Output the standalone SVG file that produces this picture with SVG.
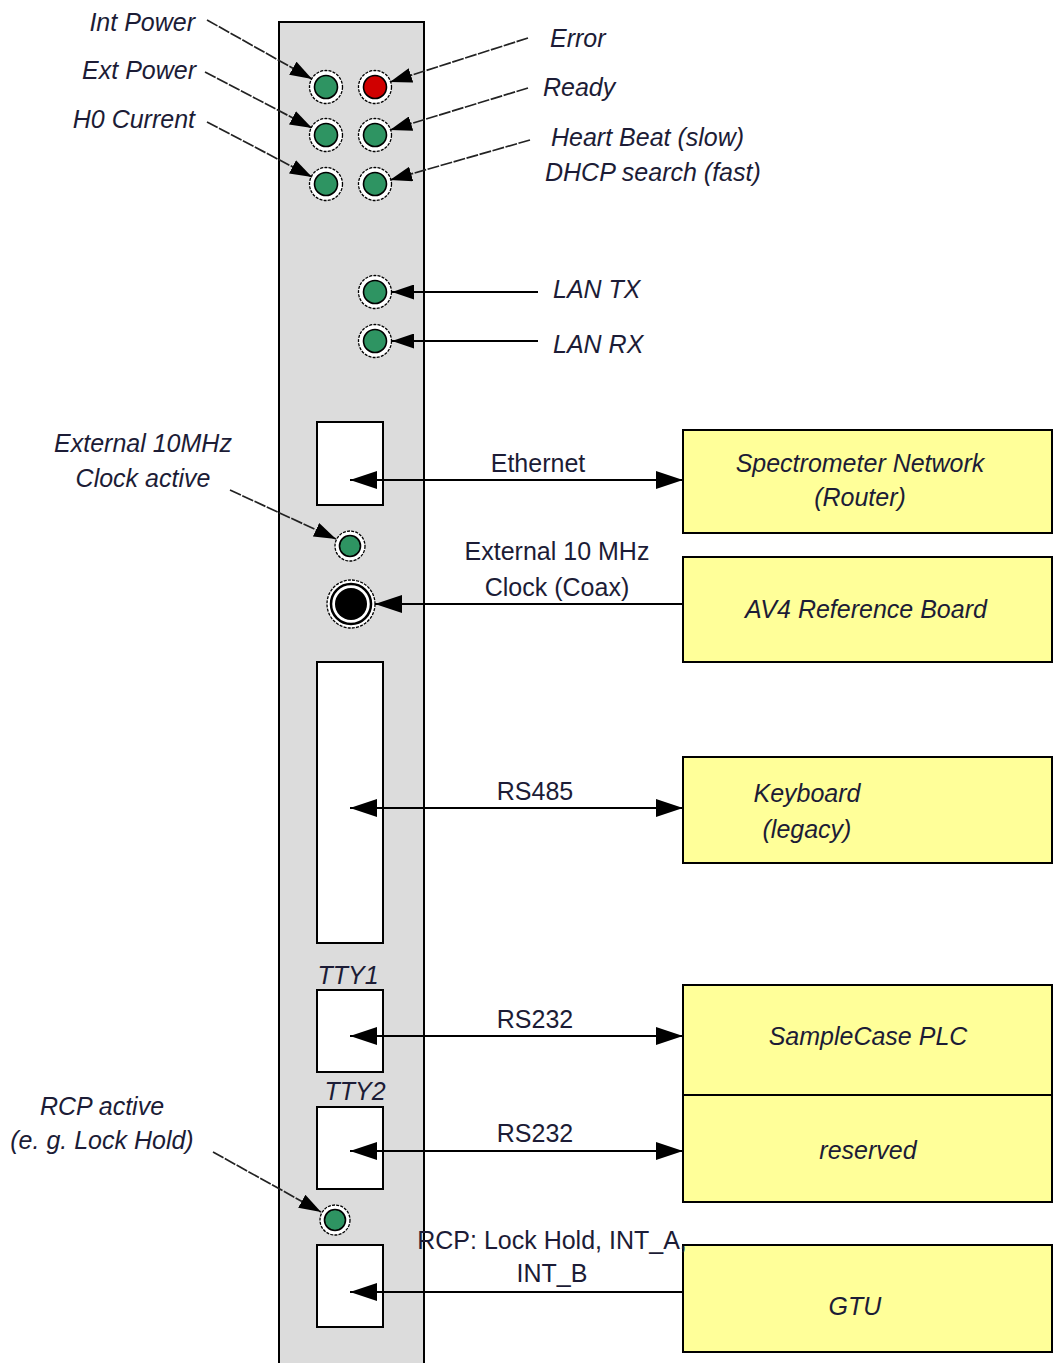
<svg xmlns="http://www.w3.org/2000/svg" width="1054" height="1363" viewBox="0 0 1054 1363">
<style>
.t{font-family:"Liberation Sans",Arial,sans-serif;font-size:25px;fill:#1c1c36}
.i{font-style:italic}
.m{text-anchor:middle}
.e{text-anchor:end}
.port{fill:#fff;stroke:#000;stroke-width:2}
.box{fill:#ffff99;stroke:#000;stroke-width:2}
.ring{fill:#fff;stroke:#000;stroke-width:1.3;stroke-dasharray:3 1.2}
.ledg{fill:#2e9462;stroke:#000;stroke-width:1.6}
.ledr{fill:#d00000;stroke:#000;stroke-width:1.6}
.conn{stroke:#000;stroke-width:2;fill:none}
.lead{stroke:#222;stroke-width:1.7;fill:none;stroke-dasharray:12 1.5}
.lan{stroke:#000;stroke-width:1.8;fill:none}
</style>
<defs>
<marker id="big" markerUnits="userSpaceOnUse" markerWidth="28" markerHeight="18" refX="27" refY="9" orient="auto-start-reverse"><path d="M0,0 L27,9 L0,18 z" fill="#000"/></marker>
<marker id="sm" markerUnits="userSpaceOnUse" markerWidth="23" markerHeight="15" refX="22" refY="7.5" orient="auto"><path d="M0,0 L22,7.5 L0,15 z" fill="#000"/></marker>
</defs>
<rect width="1054" height="1363" fill="#fff"/>
<g id="panel">
<rect x="279" y="22" width="145" height="1360" fill="#dcdcdc" stroke="#000" stroke-width="2"/>
</g>
<g id="leds">
<g id="led-int-power"><circle class="ring" cx="326" cy="87" r="16.5"/><circle class="ledg" cx="326" cy="87" r="11.5"/></g>
<g id="led-error"><circle class="ring" cx="375" cy="87" r="16.5"/><circle class="ledr" cx="375" cy="87" r="11.5"/></g>
<g id="led-ext-power"><circle class="ring" cx="326" cy="135" r="16.5"/><circle class="ledg" cx="326" cy="135" r="11.5"/></g>
<g id="led-ready"><circle class="ring" cx="375" cy="135" r="16.5"/><circle class="ledg" cx="375" cy="135" r="11.5"/></g>
<g id="led-h0"><circle class="ring" cx="326" cy="184" r="16.5"/><circle class="ledg" cx="326" cy="184" r="11.5"/></g>
<g id="led-heartbeat"><circle class="ring" cx="375" cy="184" r="16.5"/><circle class="ledg" cx="375" cy="184" r="11.5"/></g>
<g id="led-lan-tx"><circle class="ring" cx="375" cy="292" r="16.5"/><circle class="ledg" cx="375" cy="292" r="11.5"/></g>
<g id="led-lan-rx"><circle class="ring" cx="375" cy="341" r="16.5"/><circle class="ledg" cx="375" cy="341" r="11.5"/></g>
<g id="led-clock"><circle class="ring" cx="350" cy="546" r="15"/><circle class="ledg" cx="350" cy="546" r="10.5"/></g>
<g id="led-rcp"><circle class="ring" cx="335" cy="1220" r="15"/><circle class="ledg" cx="335" cy="1220" r="10.5"/></g>
</g>
<g id="coax">
<circle class="ring" cx="351" cy="604" r="24"/>
<circle cx="351" cy="604" r="20" fill="#fff" stroke="#000" stroke-width="2.5"/>
<circle cx="351" cy="604" r="16" fill="#000"/>
</g>
<g id="ports">
<rect id="port-eth" class="port" x="317" y="422" width="66" height="83"/>
<rect id="port-rs485" class="port" x="317" y="662" width="66" height="281"/>
<rect id="port-tty1" class="port" x="317" y="990" width="66" height="82"/>
<rect id="port-tty2" class="port" x="317" y="1107" width="66" height="82"/>
<rect id="port-rcp" class="port" x="317" y="1245" width="66" height="82"/>
</g>
<g id="boxes">
<g id="box-spectrometer"><rect class="box" x="683" y="430" width="369" height="103"/>
<text class="t i m" x="860" y="472">Spectrometer Network</text><text class="t i m" x="860" y="506">(Router)</text></g>
<g id="box-av4"><rect class="box" x="683" y="557" width="369" height="105"/>
<text class="t i m" x="866" y="618">AV4 Reference Board</text></g>
<g id="box-keyboard"><rect class="box" x="683" y="757" width="369" height="106"/>
<text class="t i m" x="807" y="802">Keyboard</text><text class="t i m" x="807" y="838">(legacy)</text></g>
<g id="box-samplecase"><rect class="box" x="683" y="985" width="369" height="110"/>
<text class="t i m" x="868" y="1045">SampleCase PLC</text></g>
<g id="box-reserved"><rect class="box" x="683" y="1095" width="369" height="107"/>
<text class="t i m" x="868" y="1159">reserved</text></g>
<g id="box-gtu"><rect class="box" x="683" y="1245" width="369" height="107"/>
<text class="t i m" x="855" y="1315">GTU</text></g>
</g>
<g id="connectors">
<line class="conn" x1="350" y1="480" x2="683" y2="480" marker-start="url(#big)" marker-end="url(#big)"/>
<line class="conn" x1="683" y1="604" x2="375" y2="604" marker-end="url(#big)"/>
<line class="conn" x1="350" y1="808" x2="683" y2="808" marker-start="url(#big)" marker-end="url(#big)"/>
<line class="conn" x1="350" y1="1036" x2="683" y2="1036" marker-start="url(#big)" marker-end="url(#big)"/>
<line class="conn" x1="350" y1="1151" x2="683" y2="1151" marker-start="url(#big)" marker-end="url(#big)"/>
<line class="conn" x1="683" y1="1292" x2="350" y2="1292" marker-end="url(#big)"/>
<line class="lead" x1="207" y1="20" x2="312" y2="79" marker-end="url(#sm)"/>
<line class="lead" x1="205" y1="72" x2="312" y2="128" marker-end="url(#sm)"/>
<line class="lead" x1="207" y1="122" x2="312" y2="177" marker-end="url(#sm)"/>
<line class="lead" x1="528" y1="38" x2="390" y2="82" marker-end="url(#sm)"/>
<line class="lead" x1="528" y1="88" x2="390" y2="130" marker-end="url(#sm)"/>
<line class="lead" x1="530" y1="140" x2="390" y2="180" marker-end="url(#sm)"/>
<line class="lan" x1="538" y1="292" x2="392" y2="292" marker-end="url(#sm)"/>
<line class="lan" x1="538" y1="341" x2="392" y2="341" marker-end="url(#sm)"/>
<line class="lead" x1="230" y1="490" x2="336" y2="539" marker-end="url(#sm)"/>
<line class="lead" x1="213" y1="1152" x2="321" y2="1212" marker-end="url(#sm)"/>
</g>
<g id="labels">
<text class="t i e" x="195" y="31">Int Power</text>
<text class="t i e" x="196" y="79">Ext Power</text>
<text class="t i e" x="195" y="128">H0 Current</text>
<text class="t i" x="550" y="47">Error</text>
<text class="t i" x="543" y="96">Ready</text>
<text class="t i" x="551" y="146">Heart Beat (slow)</text>
<text class="t i" x="545" y="181">DHCP search (fast)</text>
<text class="t i" x="553" y="298">LAN TX</text>
<text class="t i" x="553" y="353">LAN RX</text>
<text class="t i m" x="143" y="452">External 10MHz</text>
<text class="t i m" x="143" y="487">Clock active</text>
<text class="t i m" x="102" y="1115">RCP active</text>
<text class="t i m" x="102" y="1149">(e. g. Lock Hold)</text>
<text class="t i m" x="348" y="984">TTY1</text>
<text class="t i m" x="355" y="1100">TTY2</text>
<text class="t m" x="538" y="472">Ethernet</text>
<text class="t m" x="557" y="560">External 10 MHz</text>
<text class="t m" x="557" y="596">Clock (Coax)</text>
<text class="t m" x="535" y="800">RS485</text>
<text class="t m" x="535" y="1028">RS232</text>
<text class="t m" x="535" y="1142">RS232</text>
<text class="t m" x="552" y="1249">RCP: Lock Hold, INT_A,</text>
<text class="t m" x="552" y="1282">INT_B</text>
</g>
</svg>
